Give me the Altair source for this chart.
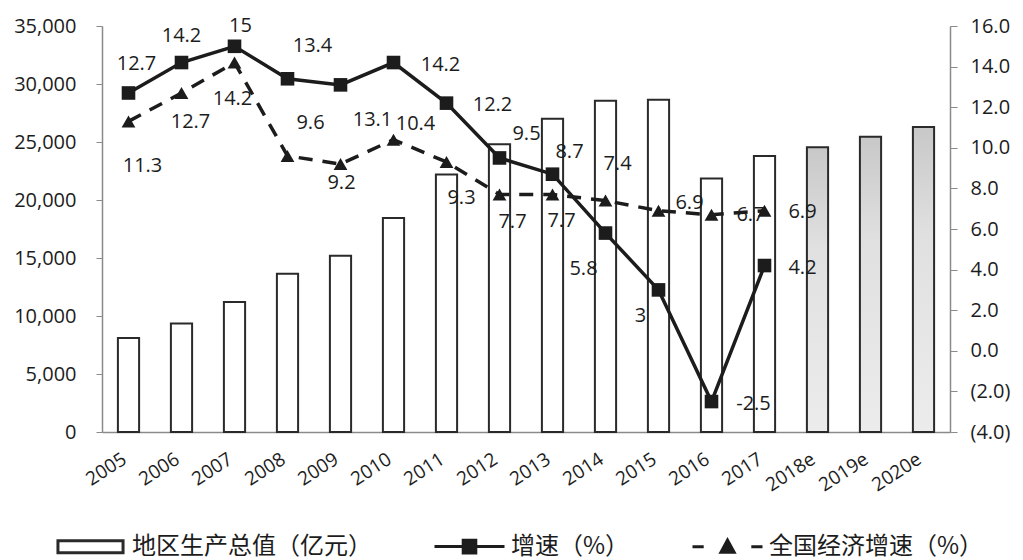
import altair as alt
import pandas as pd

# ---- data -------------------------------------------------------------
years = ["2005", "2006", "2007", "2008", "2009", "2010", "2011", "2012",
         "2013", "2014", "2015", "2016", "2017", "2018e", "2019e", "2020e"]
gdp = [8100, 9350, 11200, 13650, 15200, 18450, 22200, 24800,
       27000, 28550, 28650, 21850, 23800, 24550, 25450, 26300]
estimated = [False] * 13 + [True] * 3
growth = [12.7, 14.2, 15, 13.4, 13.1, 14.2, 12.2, 9.5, 8.7, 5.8, 3, -2.5, 4.2]
national = [11.3, 12.7, 14.2, 9.6, 9.2, 10.4, 9.3, 7.7, 7.7, 7.4, 6.9, 6.7, 6.9]

left_ticks = [0, 5000, 10000, 15000, 20000, 25000, 30000, 35000]
right_ticks = [-4, -2, 0, 2, 4, 6, 8, 10, 12, 14, 16]

S_GDP = "地区生产总值（亿元）"
S_GROW = "增速（%）"
S_NAT = "全国经济增速（%）"

# pixel nudges for each value label (dx, dy)
growth_offsets = [(8, -29), (0, -27), (6, -20), (25, -33), (32, 35), (47, 2),
                  (46, 2), (27, -24), (17, -22), (-22, 36), (-18, 26), (42, 2), (38, 2)]
national_offsets = [(14, 45), (9, 29), (-2, 36), (23, -33), (1, 19), (22, -16),
                    (15, 36), (13, 28), (9, 27), (12, -37), (31, -8), (39, 0), (38, 1)]

# ---- tables -----------------------------------------------------------
gdp_df = pd.DataFrame({"year": years, "gdp": gdp, "est": estimated})
n = len(growth)
rate_df = pd.DataFrame({
    "year": years[:n] * 2,
    "value": growth + national,
    "series": [S_GROW] * n + [S_NAT] * n,
})
rate_df["label"] = rate_df["value"].map(lambda v: f"{v:g}")

# ---- styling ----------------------------------------------------------
FONT = "Open Sans"
CJK = "Noto Sans CJK SC"
INK = "#1c1c1c"
AXIS_GREY = "#8a8a8a"

x_enc = alt.X(
    "year:N", sort=years,
    scale=alt.Scale(domain=years, paddingInner=0.6, paddingOuter=0.3),
    axis=alt.Axis(title=None, ticks=False, labelAngle=-33, labelAlign="right",
                  labelBaseline="middle", labelFont=FONT, labelFontSize=19,
                  labelColor=INK, labelPadding=25, labelOffset=-4,
                  domainColor=AXIS_GREY, domainWidth=1.5, grid=False),
)

y_left = alt.Y(
    "gdp:Q", scale=alt.Scale(domain=[0, 35000], nice=False),
    axis=alt.Axis(title=None, orient="left", values=left_ticks,
                  labelExpr="format(datum.value, ',')",
                  grid=False, tickSize=6, tickColor=AXIS_GREY, domainColor=AXIS_GREY,
                  domainWidth=1.5, labelFont=FONT, labelFontSize=20, labelColor=INK,
                  labelPadding=20),
)

right_label = ("datum.value < 0 ? '(' + format(-datum.value, '.1f') + ')'"
               " : format(datum.value, '.1f')")
y_right = alt.Y(
    "value:Q", scale=alt.Scale(domain=[-4, 16], nice=False),
    axis=alt.Axis(title=None, orient="right", values=right_ticks, labelExpr=right_label,
                  grid=False, tickSize=7, tickColor=AXIS_GREY, domainColor=AXIS_GREY,
                  domainWidth=1.5, labelFont=FONT, labelFontSize=20, labelColor=INK,
                  labelPadding=13),
)

# ---- bars (left axis) -------------------------------------------------
bars_actual = alt.Chart(gdp_df).transform_filter("!datum.est").mark_bar(
    fill="white", stroke="#2a2a2a", strokeWidth=2
).encode(x=x_enc, y=y_left)

est_fill = alt.Gradient(
    gradient="linear", x1=0, x2=0, y1=0, y2=1,
    stops=[alt.GradientStop(offset=0, color="#c8c8c8"),
           alt.GradientStop(offset=0.35, color="#e0e0e0"),
           alt.GradientStop(offset=1, color="#ececec")],
)
bars_est = alt.Chart(gdp_df).transform_filter("datum.est").mark_bar(
    fill=est_fill, stroke="#2a2a2a", strokeWidth=2
).encode(x=x_enc, y=y_left)

left = alt.layer(bars_actual, bars_est)

# ---- growth lines (right axis) ----------------------------------------
grow_line = alt.Chart(rate_df).transform_filter(alt.datum.series == S_GROW).mark_line(
    color=INK, strokeWidth=3.5
).encode(x=x_enc, y=y_right)
grow_pts = alt.Chart(rate_df).transform_filter(alt.datum.series == S_GROW).mark_point(
    shape="square", size=185, filled=True, color=INK, opacity=1
).encode(x=x_enc, y=y_right)

nat_line = alt.Chart(rate_df).transform_filter(alt.datum.series == S_NAT).mark_line(
    color=INK, strokeWidth=3.5, strokeDash=[14, 10]
).encode(x=x_enc, y=y_right)
nat_pts = alt.Chart(rate_df).transform_filter(alt.datum.series == S_NAT).mark_point(
    shape="triangle-up", size=190, filled=True, color=INK, opacity=1
).encode(x=x_enc, y=y_right)

# value labels, each nudged to its own spot
label_layers = []
for series, offsets in ((S_GROW, growth_offsets), (S_NAT, national_offsets)):
    for yr, (dx, dy) in zip(years[:n], offsets):
        label_layers.append(
            alt.Chart(rate_df)
            .transform_filter((alt.datum.series == series) & (alt.datum.year == yr))
            .mark_text(dx=dx, dy=dy, font=FONT, fontSize=20, color=INK,
                       align="center", baseline="middle")
            .encode(x=x_enc, y=y_right, text="label:N")
        )

# legend carrier: invisible points whose legend draws the three keys
legend_shapes = [
    "M-0.93,-0.17H0.93V0.17H-0.93Z",
    "M-1,0H1M-0.18,-0.18H0.18V0.18H-0.18Z",
    "M-1,0H-0.68M0.68,0H1M-0.19,0.16L0,-0.19L0.19,0.16Z",
]
series_domain = [S_GDP, S_GROW, S_NAT]
legend_def = alt.Legend(
    title=None, orient="none", direction="horizontal", legendX=-48, legendY=484,
    symbolSize=4900, symbolStrokeWidth=3, symbolOpacity=1,
    labelFont=CJK, labelFontSize=24, labelColor=INK, labelOffset=5,
    columnPadding=56, padding=0, labelLimit=400,
)
legend_layer = alt.Chart(rate_df).mark_point(filled=True, opacity=0).encode(
    x=x_enc, y=y_right,
    shape=alt.Shape("series:N", scale=alt.Scale(domain=series_domain, range=legend_shapes),
                    legend=legend_def),
    fill=alt.Fill("series:N", scale=alt.Scale(domain=series_domain,
                                              range=["white", INK, INK]),
                  legend=legend_def),
    stroke=alt.Stroke("series:N", scale=alt.Scale(domain=series_domain,
                                                  range=["#2a2a2a", INK, INK]),
                      legend=legend_def),
)

right = alt.layer(nat_line, grow_line, nat_pts, grow_pts, *label_layers, legend_layer)

chart = (
    alt.layer(left, right)
    .resolve_scale(y="independent")
    .properties(
        width=848, height=406,
        padding={"left": 102, "top": 26, "right": 73, "bottom": 128},
        autosize=alt.AutoSizeParams(type="none"),
        background="white",
    )
    .configure_view(stroke=None)
)

chart.save("out.html", embed_options={"renderer": "svg", "actions": False})
